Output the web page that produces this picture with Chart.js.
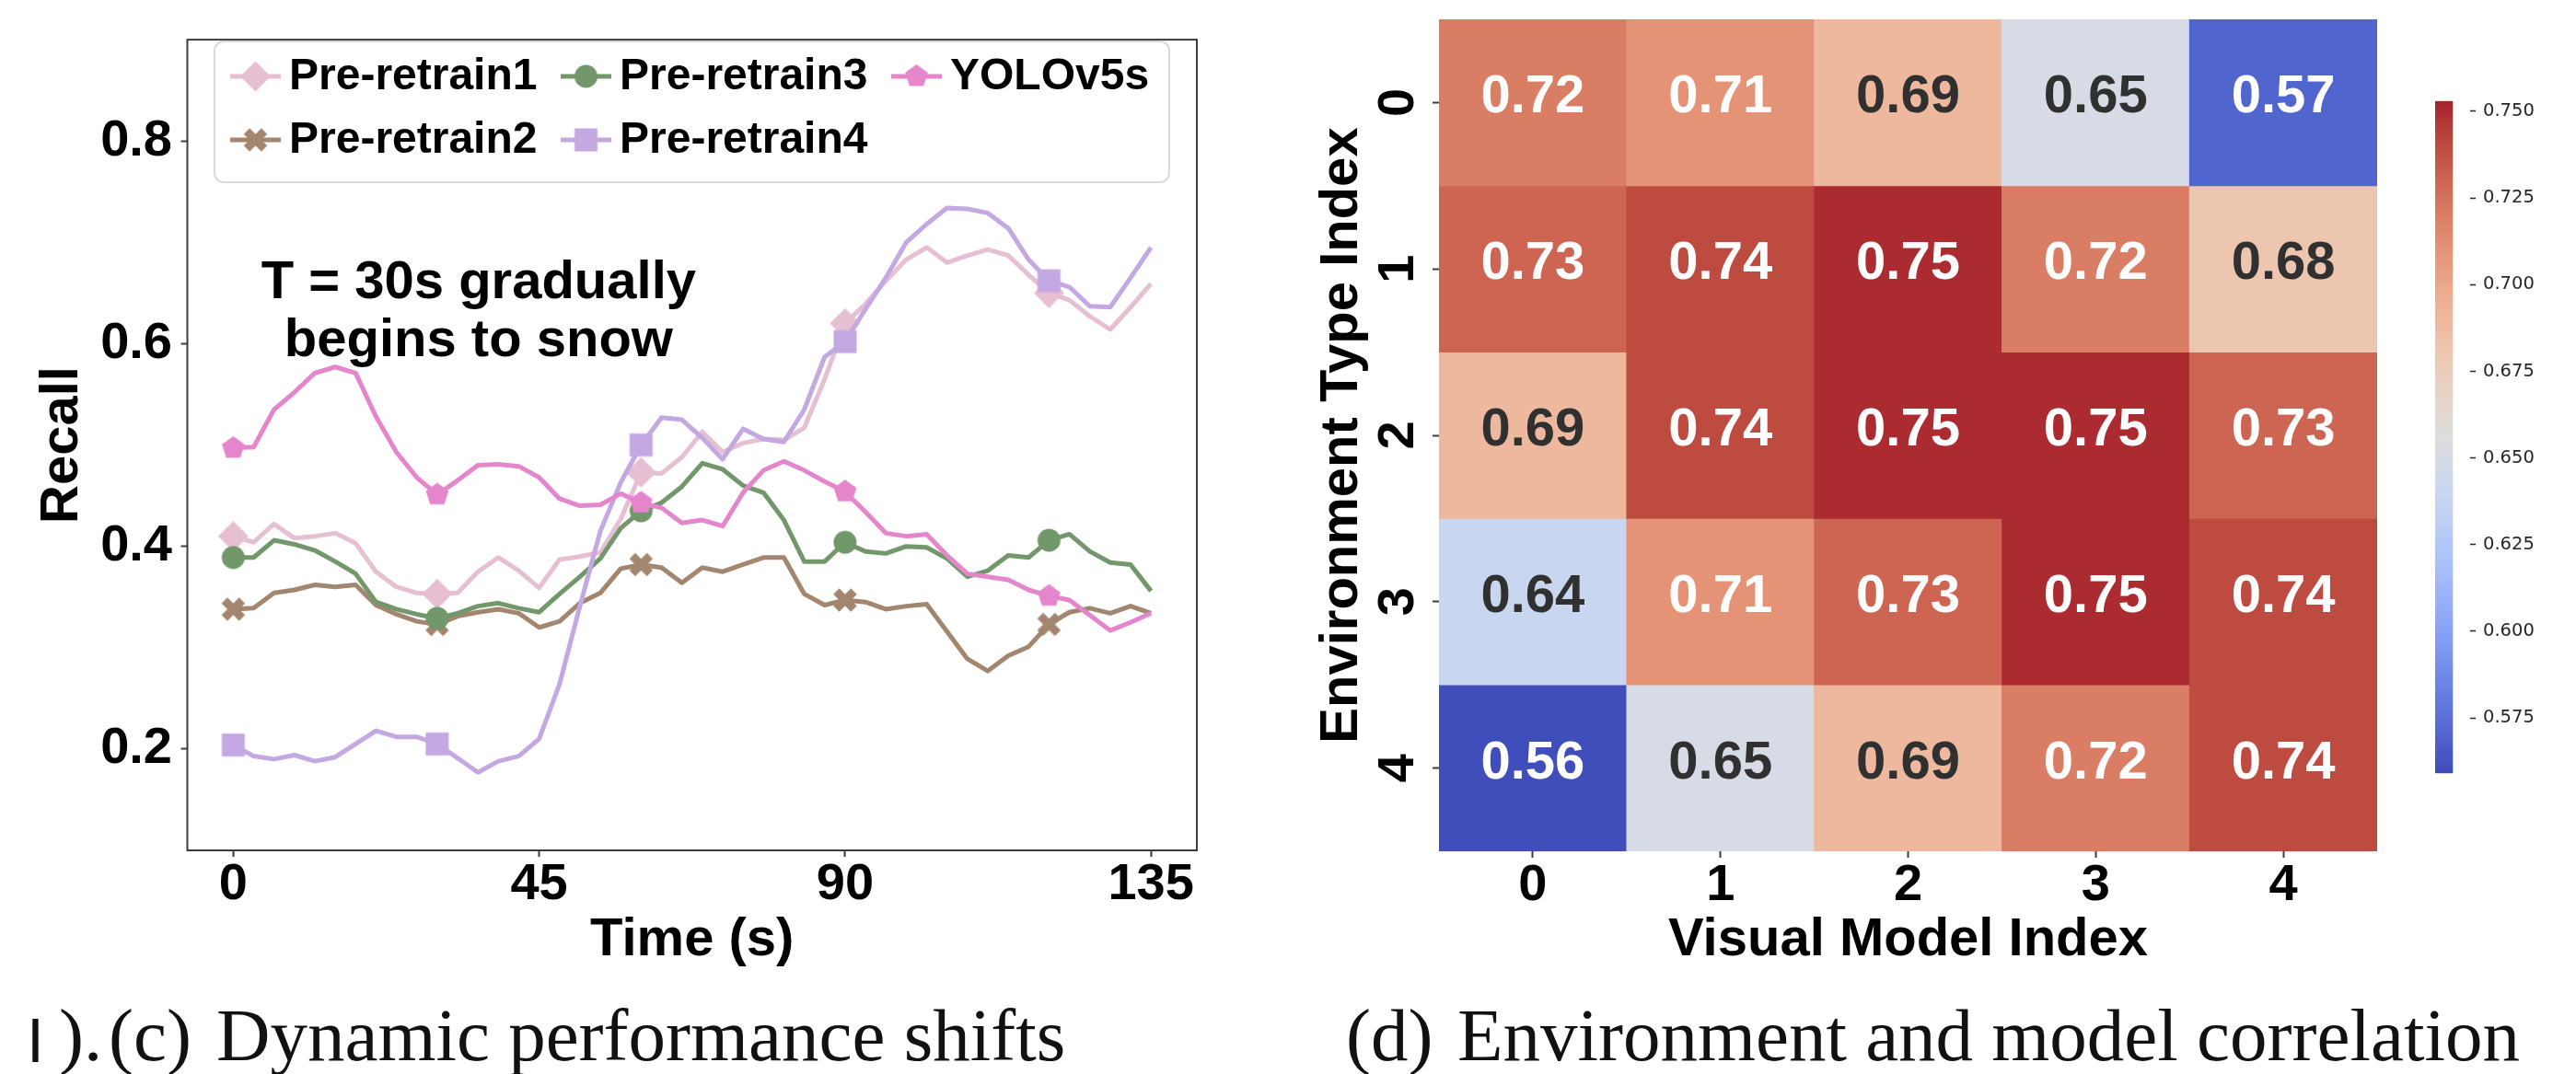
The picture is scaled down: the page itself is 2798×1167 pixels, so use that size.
<!DOCTYPE html>
<html>
<head>
<meta charset="utf-8">
<script src="https://cdn.jsdelivr.net/npm/chart.js@4.4.1/dist/chart.umd.min.js"></script>
<style>
  html, body { margin: 0; padding: 0; background: #fff; }
  body { width: 2798px; height: 1167px; position: relative; overflow: hidden; }
  canvas { position: absolute; }
  .cap { position: absolute; top: 1085px; font-family: 'Liberation Serif', 'DejaVu Serif', serif;
         font-size: 81px; line-height: 1; color: #111; white-space: pre; }
</style>
</head>
<body>
<canvas id="recall" width="1330" height="1100" style="left:0;top:0"></canvas>
<canvas id="heat" width="1230" height="1100" style="left:1400px;top:0"></canvas>
<canvas id="cbar" width="120" height="770" style="left:2640px;top:90px"></canvas>

<div class="cap" style="left:29px;font-family:'Liberation Sans',sans-serif;font-size:68px;top:1096px">I</div>
<div class="cap" style="left:64px">).</div>
<div class="cap" style="left:118px">(c)</div>
<div class="cap" style="left:235px">Dynamic performance shifts</div>
<div class="cap" style="left:1462px">(d)</div>
<div class="cap" style="left:1583px">Environment and model correlation</div>

<script>
// ---- (c) recall over time ----
const TIME_S = [0, 3, 6, 9, 12, 15, 18, 21, 24, 27, 30, 33, 36, 39, 42, 45, 48, 51, 54, 57,
                60, 63, 66, 69, 72, 75, 78, 81, 84, 87, 90, 93, 96, 99, 102, 105, 108, 111, 114, 117,
                120, 123, 126, 129, 132, 135];
const PRE_RETRAIN1 = [0.410, 0.404, 0.422, 0.408, 0.410, 0.413, 0.403, 0.375, 0.360, 0.354,
                      0.353, 0.354, 0.375, 0.389, 0.376, 0.359, 0.387, 0.390, 0.394, 0.427,
                      0.473, 0.472, 0.488, 0.513, 0.493, 0.502, 0.506, 0.505, 0.517, 0.565,
                      0.620, 0.639, 0.662, 0.683, 0.695, 0.680, 0.687, 0.693, 0.687, 0.668,
                      0.650, 0.643, 0.627, 0.614, 0.636, 0.659];
const PRE_RETRAIN2 = [0.338, 0.339, 0.354, 0.357, 0.362, 0.360, 0.362, 0.342, 0.333, 0.326,
                      0.323, 0.331, 0.335, 0.338, 0.334, 0.320, 0.326, 0.344, 0.354, 0.378,
                      0.382, 0.379, 0.364, 0.379, 0.375, 0.382, 0.389, 0.389, 0.353, 0.342,
                      0.347, 0.345, 0.338, 0.341, 0.343, 0.316, 0.289, 0.277, 0.292, 0.301,
                      0.323, 0.335, 0.339, 0.334, 0.341, 0.334];
const PRE_RETRAIN3 = [0.389, 0.389, 0.406, 0.402, 0.396, 0.385, 0.373, 0.345, 0.338, 0.333,
                      0.329, 0.334, 0.341, 0.344, 0.339, 0.335, 0.353, 0.370, 0.388, 0.418,
                      0.435, 0.443, 0.459, 0.482, 0.476, 0.460, 0.453, 0.426, 0.385, 0.385,
                      0.404, 0.395, 0.393, 0.400, 0.399, 0.388, 0.370, 0.376, 0.391, 0.389,
                      0.406, 0.412, 0.395, 0.384, 0.382, 0.356];
const PRE_RETRAIN4 = [0.204, 0.193, 0.190, 0.194, 0.188, 0.192, 0.205, 0.218, 0.212, 0.212,
                      0.205, 0.191, 0.177, 0.188, 0.193, 0.210, 0.264, 0.341, 0.415, 0.463,
                      0.500, 0.527, 0.525, 0.507, 0.486, 0.516, 0.506, 0.503, 0.535, 0.587,
                      0.602, 0.634, 0.665, 0.700, 0.718, 0.734, 0.733, 0.729, 0.714, 0.683,
                      0.662, 0.656, 0.637, 0.636, 0.665, 0.695];
const YOLOV5S = [0.497, 0.498, 0.535, 0.552, 0.571, 0.577, 0.571, 0.528, 0.493, 0.468,
                 0.451, 0.465, 0.480, 0.481, 0.479, 0.468, 0.447, 0.440, 0.441, 0.452,
                 0.443, 0.438, 0.423, 0.426, 0.420, 0.453, 0.475, 0.484, 0.475, 0.464,
                 0.454, 0.434, 0.413, 0.410, 0.412, 0.391, 0.373, 0.370, 0.367, 0.357,
                 0.351, 0.347, 0.332, 0.317, 0.325, 0.334];
const SERIES_NAMES = ['Pre-retrain1', 'Pre-retrain2', 'Pre-retrain3', 'Pre-retrain4', 'YOLOv5s'];
const SERIES_VALUES = [PRE_RETRAIN1, PRE_RETRAIN2, PRE_RETRAIN3, PRE_RETRAIN4, YOLOV5S];
const SERIES_COLORS = ['#e6bfd2', '#a2866f', '#72976a', '#c4a8e2', '#e586cc'];
const SERIES_MARKERS = ['diamond', 'xfill', 'circle', 'square', 'pentagon'];
const X_TICKS = [0, 45, 90, 135];
const Y_TICKS = [0.2, 0.4, 0.6, 0.8];
const MARK_EVERY = 10;
const NOTE_LINES = ['T = 30s gradually', 'begins to snow'];

// ---- (d) environment x model heatmap ----
const ENV_INDEX = ['0', '1', '2', '3', '4'];
const MODEL_INDEX = ['0', '1', '2', '3', '4'];
const RECALL_MATRIX = [
  [0.72, 0.71, 0.69, 0.65, 0.57],
  [0.73, 0.74, 0.75, 0.72, 0.68],
  [0.69, 0.74, 0.75, 0.75, 0.73],
  [0.64, 0.71, 0.73, 0.75, 0.74],
  [0.56, 0.65, 0.69, 0.72, 0.74]
];
const CB_MIN = 0.559, CB_MAX = 0.753;
const CB_TICKS = [0.575, 0.600, 0.625, 0.650, 0.675, 0.700, 0.725, 0.750];

Chart.defaults.font.family = "'Liberation Sans', Arial, sans-serif";
Chart.defaults.color = '#000';

// coolwarm colour map (diverging blue-white-red), sRGB
const COOLWARM = [
  [59,76,192],[68,90,204],[77,104,215],[87,117,225],[98,130,234],[108,142,241],[119,154,247],
  [130,165,251],[141,176,254],[152,185,255],[163,194,255],[174,201,253],[184,208,249],
  [194,213,244],[204,217,238],[213,219,230],[221,221,221],[229,216,209],[236,211,197],
  [241,204,184],[245,196,172],[247,187,160],[247,177,148],[247,166,137],[244,154,123],
  [241,141,112],[236,127,99],[229,112,88],[222,96,77],[213,80,66],[203,62,56],[192,40,47],[180,4,38]
];
// re-encode an sRGB colour with Display-P3 primaries (softer, wide-gamut rendering)
function toP3(c) {
  const lin = c.map(v => { v /= 255; return v <= 0.04045 ? v / 12.92 : Math.pow((v + 0.055) / 1.055, 2.4); });
  const m = [[0.8225, 0.1774, 0.0000], [0.0332, 0.9669, 0.0000], [0.0171, 0.0724, 0.9108]];
  return m.map(row => {
    const l = row[0] * lin[0] + row[1] * lin[1] + row[2] * lin[2];
    const e = l <= 0.0031308 ? 12.92 * l : 1.055 * Math.pow(l, 1 / 2.4) - 0.055;
    return Math.max(0, Math.min(255, e * 255));
  });
}
function coolwarmRGB(t) {
  t = Math.max(0, Math.min(1, t));
  const p = t * (COOLWARM.length - 1), i = Math.min(Math.floor(p), COOLWARM.length - 2), f = p - i;
  const a = COOLWARM[i], b = COOLWARM[i + 1];
  return toP3([0, 1, 2].map(k => a[k] + (b[k] - a[k]) * f));
}
const rgbStr = c => `rgb(${c.map(Math.round).join(',')})`;
function luminance(c) {
  const lin = c.map(v => { v /= 255; return v <= 0.03928 ? v / 12.92 : Math.pow((v + 0.055) / 1.055, 2.4); });
  return 0.2126 * lin[0] + 0.7152 * lin[1] + 0.0722 * lin[2];
}

// marker glyphs as small canvases
function markerImage(shape, color) {
  const S = 40, c = document.createElement('canvas');
  c.width = S; c.height = S;
  const g = c.getContext('2d');
  g.fillStyle = color;
  g.translate(S / 2, S / 2);
  g.beginPath();
  if (shape === 'diamond') {
    const h = 16.5;
    g.moveTo(0, -h); g.lineTo(h, 0); g.lineTo(0, h); g.lineTo(-h, 0);
  } else if (shape === 'circle') {
    g.arc(0, 0, 12.5, 0, Math.PI * 2);
  } else if (shape === 'square') {
    g.rect(-12.5, -12.5, 25, 25);
  } else if (shape === 'pentagon') {
    const r = 13;
    for (let k = 0; k < 5; k++) {
      const a = -Math.PI / 2 + k * 2 * Math.PI / 5;
      k ? g.lineTo(r * Math.cos(a), r * Math.sin(a)) : g.moveTo(r * Math.cos(a), r * Math.sin(a));
    }
  } else if (shape === 'xfill') {
    const pts = [[-1,-3],[1,-3],[1,-1],[3,-1],[3,1],[1,1],[1,3],[-1,3],[-1,1],[-3,1],[-3,-1],[-1,-1]];
    const s = 27 / 6;
    g.rotate(Math.PI / 4);
    pts.forEach((p, k) => k ? g.lineTo(p[0] * s, p[1] * s) : g.moveTo(p[0] * s, p[1] * s));
  }
  g.closePath();
  g.fill();
  return c;
}

const BOLD = 'bold';
const AXIS_GREY = '#3c3c3c';
const LINE_W = 5;

// box around the plotting area
const framePlugin = {
  id: 'frame',
  afterDatasetsDraw(chart) {
    const { ctx, chartArea: a } = chart;
    ctx.save();
    ctx.strokeStyle = AXIS_GREY;
    ctx.lineWidth = 2;
    ctx.strokeRect(a.left, a.top, a.right - a.left, a.bottom - a.top);
    ctx.restore();
  }
};

// in-plot note
const notePlugin = {
  id: 'note',
  afterDatasetsDraw(chart) {
    const { ctx, scales: { x, y } } = chart;
    ctx.save();
    ctx.font = `${BOLD} 58px 'Liberation Sans', Arial, sans-serif`;
    ctx.fillStyle = '#000';
    ctx.textAlign = 'center';
    ctx.textBaseline = 'alphabetic';
    const cx = x.getPixelForValue(36.1);
    const y0 = y.getPixelForValue(0.6445);
    NOTE_LINES.forEach((t, i) => ctx.fillText(t, cx, y0 + i * 63));
    ctx.restore();
  }
};

// three-column legend inside the axes
const legendPlugin = {
  id: 'boxLegend',
  afterDraw(chart) {
    const { ctx } = chart;
    const box = { l: 233, t: 45, r: 1270, b: 198 };
    ctx.save();
    ctx.beginPath();
    ctx.roundRect(box.l, box.t, box.r - box.l, box.b - box.t, 10);
    ctx.fillStyle = 'rgba(255,255,255,0.8)';
    ctx.fill();
    ctx.strokeStyle = '#d9d9d9';
    ctx.lineWidth = 2;
    ctx.stroke();
    const colX = [250, 609, 968];
    const rowY = [83, 152];
    ctx.font = `${BOLD} 48px 'Liberation Sans', Arial, sans-serif`;
    ctx.textBaseline = 'middle';
    ctx.textAlign = 'left';
    chart.data.datasets.forEach((ds, k) => {
      const col = Math.floor(k / 2), row = k % 2;
      const x0 = colX[col], y0 = rowY[row];
      ctx.strokeStyle = ds.borderColor;
      ctx.lineWidth = ds.borderWidth;
      ctx.beginPath();
      ctx.moveTo(x0, y0); ctx.lineTo(x0 + 55, y0);
      ctx.stroke();
      const img = ds.pointStyle;
      ctx.drawImage(img, x0 + 27.5 - img.width / 2, y0 - img.height / 2);
      ctx.fillStyle = '#000';
      ctx.fillText(ds.label, x0 + 64, y0 + 1);
    });
    ctx.restore();
  }
};

new Chart(document.getElementById('recall'), {
  type: 'line',
  data: {
    datasets: SERIES_NAMES.map((name, k) => ({
      label: name,
      data: TIME_S.map((t, i) => ({ x: t, y: SERIES_VALUES[k][i] })),
      borderColor: SERIES_COLORS[k],
      backgroundColor: SERIES_COLORS[k],
      borderWidth: LINE_W,
      borderJoinStyle: 'round',
      tension: 0,
      pointStyle: markerImage(SERIES_MARKERS[k], SERIES_COLORS[k]),
      pointRadius: c => (c.dataIndex % MARK_EVERY === 0 ? 12 : 0),
      pointHoverRadius: 0,
      order: SERIES_NAMES.length - k
    }))
  },
  options: {
    responsive: false,
    animation: false,
    devicePixelRatio: 1,
    layout: { padding: { left: 0, right: 30, top: 21, bottom: 0 } },
    plugins: { legend: { display: false }, tooltip: { enabled: false } },
    scales: {
      x: {
        type: 'linear', min: -6.75, max: 141.75,
        afterBuildTicks: s => { s.ticks = X_TICKS.map(v => ({ value: v })); },
        afterFit: s => { s.height = 176; },
        border: { display: false },
        grid: { drawOnChartArea: false, drawTicks: true, tickLength: 7, tickWidth: 2, tickColor: AXIS_GREY },
        ticks: { font: { size: 56, weight: BOLD, lineHeight: 1.1 }, color: '#000', padding: 0, maxRotation: 0, autoSkip: false },
        title: { display: true, text: 'Time (s)', color: '#000', font: { size: 58, weight: BOLD }, padding: { top: 0, bottom: 43 } }
      },
      y: {
        type: 'linear', min: 0.1, max: 0.9,
        afterBuildTicks: s => { s.ticks = Y_TICKS.map(v => ({ value: v })); },
        afterFit: s => { s.width = 203.5; },
        border: { display: false },
        grid: { drawOnChartArea: false, drawTicks: true, tickLength: 7, tickWidth: 2, tickColor: AXIS_GREY },
        ticks: { font: { size: 56, weight: BOLD }, color: '#000', padding: 9.5, callback: v => v.toFixed(1) },
        title: { display: true, text: 'Recall', color: '#000', font: { size: 58, weight: BOLD }, padding: { top: 33, bottom: 0 } }
      }
    }
  },
  plugins: [framePlugin, notePlugin, legendPlugin]
});

// values written in each heatmap cell, plus rotated row labels
const cellTextPlugin = {
  id: 'cellText',
  afterDatasetsDraw(chart) {
    const { ctx } = chart;
    ctx.save();
    ctx.font = `${BOLD} 58px 'Liberation Sans', Arial, sans-serif`;
    ctx.textAlign = 'center';
    ctx.textBaseline = 'middle';
    chart.data.datasets.forEach((ds, r) => {
      chart.getDatasetMeta(r).data.forEach((bar, c) => {
        const p = bar.getProps(['x', 'y', 'base'], true);
        const v = RECALL_MATRIX[r][c];
        const rgb = coolwarmRGB((v - CB_MIN) / (CB_MAX - CB_MIN));
        ctx.fillStyle = luminance(rgb) > 0.408 ? '#303030' : '#ffffff';
        ctx.fillText(v.toFixed(2), p.x, (p.y + p.base) / 2 - 5);
      });
    });
    const ys = chart.scales.y;
    ctx.fillStyle = '#000';
    ctx.font = `${BOLD} 56px 'Liberation Sans', Arial, sans-serif`;
    ENV_INDEX.forEach((lab, i) => {
      ctx.save();
      ctx.translate(ys.right - 43, ys.getPixelForValue(i));
      ctx.rotate(-Math.PI / 2);
      ctx.fillText(lab, 0, 0);
      ctx.restore();
    });
    ctx.restore();
  }
};

new Chart(document.getElementById('heat'), {
  type: 'bar',
  data: {
    labels: MODEL_INDEX,
    datasets: ENV_INDEX.map((env, r) => ({
      label: 'Environment ' + env,
      data: MODEL_INDEX.map(() => [r - 0.5, r + 0.5]),
      backgroundColor: RECALL_MATRIX[r].map(v => rgbStr(coolwarmRGB((v - CB_MIN) / (CB_MAX - CB_MIN)))),
      borderWidth: 0,
      barPercentage: 1,
      categoryPercentage: 1,
      grouped: false
    }))
  },
  options: {
    responsive: false,
    animation: false,
    devicePixelRatio: 1,
    layout: { padding: { left: 0, right: 48, top: 21, bottom: 0 } },
    plugins: { legend: { display: false }, tooltip: { enabled: false } },
    scales: {
      x: {
        type: 'category', offset: true,
        afterFit: s => { s.height = 175; },
        border: { display: false },
        grid: { offset: false, drawOnChartArea: false, drawTicks: true, tickLength: 7, tickWidth: 2, tickColor: AXIS_GREY },
        ticks: { font: { size: 56, weight: BOLD, lineHeight: 1.1 }, color: '#000', padding: 0, maxRotation: 0 },
        title: { display: true, text: 'Visual Model Index', color: '#000', font: { size: 58, weight: BOLD }, padding: { top: 0, bottom: 43 } }
      },
      y: {
        type: 'linear', min: -0.5, max: 4.5, reverse: true,
        afterBuildTicks: s => { s.ticks = ENV_INDEX.map((e, i) => ({ value: i })); },
        afterFit: s => { s.width = 163; },
        border: { display: false },
        grid: { drawOnChartArea: false, drawTicks: true, tickLength: 7, tickWidth: 2, tickColor: AXIS_GREY },
        ticks: { display: false },
        title: { display: true, text: 'Environment Type Index', color: '#000', font: { size: 58, weight: BOLD }, padding: { top: 23, bottom: 0 } }
      }
    }
  },
  plugins: [cellTextPlugin]
});

// colour bar
new Chart(document.getElementById('cbar'), {
  type: 'bar',
  data: {
    labels: [''],
    datasets: [{
      data: [[CB_MIN, CB_MAX]],
      borderWidth: 0,
      barPercentage: 1,
      categoryPercentage: 1,
      backgroundColor: c => {
        const a = c.chart.chartArea;
        if (!a) return 'transparent';
        const g = c.chart.ctx.createLinearGradient(0, a.bottom, 0, a.top);
        for (let k = 0; k <= 64; k++) g.addColorStop(k / 64, rgbStr(coolwarmRGB(k / 64)));
        return g;
      }
    }]
  },
  options: {
    responsive: false,
    animation: false,
    devicePixelRatio: 1,
    layout: { padding: { left: 5, right: 0, top: 12, bottom: 17 } },
    plugins: { legend: { display: false }, tooltip: { enabled: false } },
    scales: {
      x: { display: false, offset: false },
      y: {
        position: 'right', min: CB_MIN, max: CB_MAX,
        afterBuildTicks: s => { s.ticks = CB_TICKS.map(v => ({ value: v })); },
        afterFit: s => { s.width = 77; },
        border: { display: false },
        grid: { drawOnChartArea: false, drawTicks: true, tickLength: 6, tickWidth: 1.5, tickColor: '#262626' },
        ticks: { font: { family: "'DejaVu Sans', sans-serif", size: 19.5 }, color: '#262626', padding: 8, callback: v => v.toFixed(3) }
      }
    }
  }
});
</script>
</body>
</html>
